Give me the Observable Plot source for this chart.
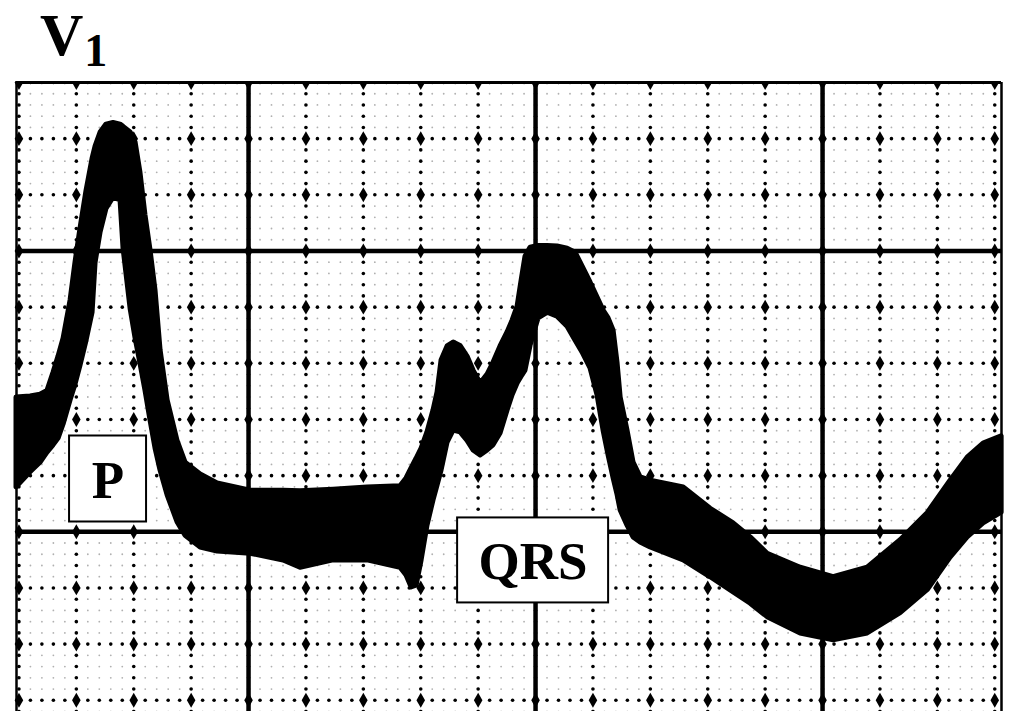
<!DOCTYPE html>
<html>
<head>
<meta charset="utf-8">
<script src="https://cdn.jsdelivr.net/npm/d3@7"></script>
<script src="https://cdn.jsdelivr.net/npm/@observablehq/plot@0.6"></script>
<style>
  html, body { margin: 0; padding: 0; background: white; }
  svg { display: block; }
</style>
</head>
<body>
<svg id="title" width="1011" height="81" xmlns="http://www.w3.org/2000/svg">
  <text x="40" y="55" font-family="'Liberation Serif', 'Times New Roman', serif" font-weight="bold"><tspan font-size="60">V</tspan><tspan font-size="46" dx="1" dy="11">1</tspan></text>
</svg>
<div id="chart"></div>
<script>
// Time (ms) along the tracing; one minor division = 40 ms, one major = 200 ms
const time = [38.3, 48.1, 55.0, 59.9, 64.1, 67.6, 71.1, 76.0, 79.4, 82.9, 87.1, 91.3, 93.4, 96.9, 101.0, 105.9, 110.8, 112.9, 117.8, 121.3, 124.7, 128.2, 131.7, 135.2, 138.7, 143.6, 150.5, 156.1, 166.6, 178.4, 201.4, 224.4, 236.2, 259.2, 282.9, 305.9, 310.1, 313.6, 317.1, 320.6, 324.7, 328.9, 331.7, 334.5, 338.7, 342.9, 347.7, 352.6, 356.8, 361.7, 366.6, 370.7, 375.6, 380.5, 384.0, 387.5, 390.3, 393.0, 396.5, 402.1, 408.4, 415.3, 422.3, 427.9, 432.8, 438.3, 443.2, 447.4, 450.9, 454.4, 457.2, 459.3, 464.1, 468.3, 473.2, 480.2, 503.2, 522.0, 538.0, 549.9, 561.7, 584.7, 607.7, 631.4, 654.4, 673.2, 689.2, 701.1, 712.2, 724.8];
// Upper edge of the (thick) trace, mV
const upperEdge = [0.239, 0.241, 0.244, 0.251, 0.283, 0.312, 0.344, 0.412, 0.479, 0.540, 0.607, 0.664, 0.686, 0.711, 0.725, 0.728, 0.725, 0.721, 0.711, 0.693, 0.639, 0.563, 0.501, 0.429, 0.323, 0.234, 0.162, 0.123, 0.102, 0.086, 0.073, 0.073, 0.072, 0.075, 0.079, 0.081, 0.095, 0.113, 0.130, 0.148, 0.177, 0.216, 0.248, 0.305, 0.330, 0.337, 0.331, 0.312, 0.287, 0.264, 0.280, 0.301, 0.330, 0.355, 0.376, 0.401, 0.447, 0.490, 0.506, 0.509, 0.509, 0.508, 0.504, 0.497, 0.472, 0.444, 0.417, 0.394, 0.380, 0.358, 0.299, 0.239, 0.180, 0.123, 0.097, 0.091, 0.079, 0.041, 0.015, -0.010, -0.039, -0.064, -0.081, -0.064, -0.015, 0.033, 0.091, 0.132, 0.157, 0.170];
// Lower edge of the trace, mV
const lowerEdge = [0.079, 0.106, 0.123, 0.141, 0.154, 0.166, 0.191, 0.234, 0.262, 0.296, 0.340, 0.390, 0.479, 0.533, 0.575, 0.595, 0.590, 0.504, 0.397, 0.344, 0.299, 0.251, 0.198, 0.148, 0.109, 0.065, 0.017, -0.007, -0.028, -0.035, -0.039, -0.051, -0.064, -0.051, -0.051, -0.064, -0.078, -0.099, -0.096, -0.051, 0.011, 0.056, 0.082, 0.109, 0.159, 0.180, 0.177, 0.162, 0.145, 0.136, 0.145, 0.154, 0.175, 0.216, 0.243, 0.264, 0.276, 0.287, 0.331, 0.380, 0.390, 0.383, 0.365, 0.340, 0.319, 0.291, 0.243, 0.180, 0.136, 0.095, 0.065, 0.038, 0.011, -0.010, -0.019, -0.028, -0.051, -0.081, -0.108, -0.128, -0.152, -0.181, -0.193, -0.181, -0.145, -0.104, -0.046, -0.010, 0.015, 0.034];

// Wave labels
const labelText = ["P", "QRS"];
const labelTime = [102.1, 398.3];
const labelVolt = [0.094, -0.051];

// Paper grid
const xDomain = [38.3, 724.7];
const yDomain = [-0.32, 0.8];
const majorT = [200, 400, 600];
const majorV = [0, 0.5];

const trace = time.map((t, i) => ({t, hi: upperEdge[i], lo: lowerEdge[i]}));
const labels = labelText.map((s, i) => ({s, t: labelTime[i], v: labelVolt[i]}));

// grid indices: fine step = 8 ms x 0.02 mV; minor every 5 fine steps
const fineTi = d3.range(5, 91);      // 40 .. 720 ms
const fineVi = d3.range(-16, 41);    // -0.32 .. 0.80 mV
const fineDots = [], beadDots = [], crossDots = [];
for (const i of fineTi) for (const j of fineVi) {
  const p = {t: i * 8, v: j * 0.02};
  const onT = i % 5 === 0, onV = j % 5 === 0;
  if (onT && onV) crossDots.push(p);
  else if (onT || onV) beadDots.push(p);
  else fineDots.push(p);
}

const box = (w, h) => ({insetLeft: -w / 2, insetRight: -w / 2, insetTop: -h / 2, insetBottom: -h / 2});

const chart = Plot.plot({
  width: 1011,
  height: 630,
  marginLeft: 16,
  marginRight: 10,
  marginTop: 1,
  marginBottom: 0,
  x: {domain: xDomain, axis: null},
  y: {domain: yDomain, axis: null},
  marks: [
    Plot.dot(fineDots, {x: "t", y: "v", r: 0.9, fill: "#b0b0b0", stroke: null}),
    Plot.dot(beadDots, {x: "t", y: "v", r: 1.8, fill: "black", stroke: null}),
    Plot.ruleX(majorT, {stroke: "black", strokeWidth: 4.5}),
    Plot.ruleY(majorV, {stroke: "black", strokeWidth: 4.5}),
    Plot.dot(crossDots, {x: "t", y: "v", r: 4.5, symbol: "diamond", fill: "black", stroke: null}),
    Plot.ruleX(xDomain, {stroke: "black", strokeWidth: 2.5}),
    Plot.ruleY([yDomain[1]], {stroke: "black", strokeWidth: 3}),
    Plot.areaY(trace, {x: "t", y1: "lo", y2: "hi", fill: "black", stroke: "black", strokeWidth: 5, strokeLinejoin: "round"}),
    Plot.rect(labels.filter(d => d.s === "P"), {x1: "t", x2: "t", y1: "v", y2: "v", ...box(77, 86), fill: "white", stroke: "black", strokeWidth: 2}),
    Plot.rect(labels.filter(d => d.s === "QRS"), {x1: "t", x2: "t", y1: "v", y2: "v", ...box(151, 85), fill: "white", stroke: "black", strokeWidth: 2}),
    Plot.text(labels, {x: "t", y: "v", text: "s", fontSize: 53, fontWeight: "bold", fontFamily: "'Liberation Serif', 'Times New Roman', serif", fill: "black", textAnchor: "middle", lineAnchor: "middle", dy: 2})
  ]
});
document.getElementById("chart").appendChild(chart);
</script>
</body>
</html>
